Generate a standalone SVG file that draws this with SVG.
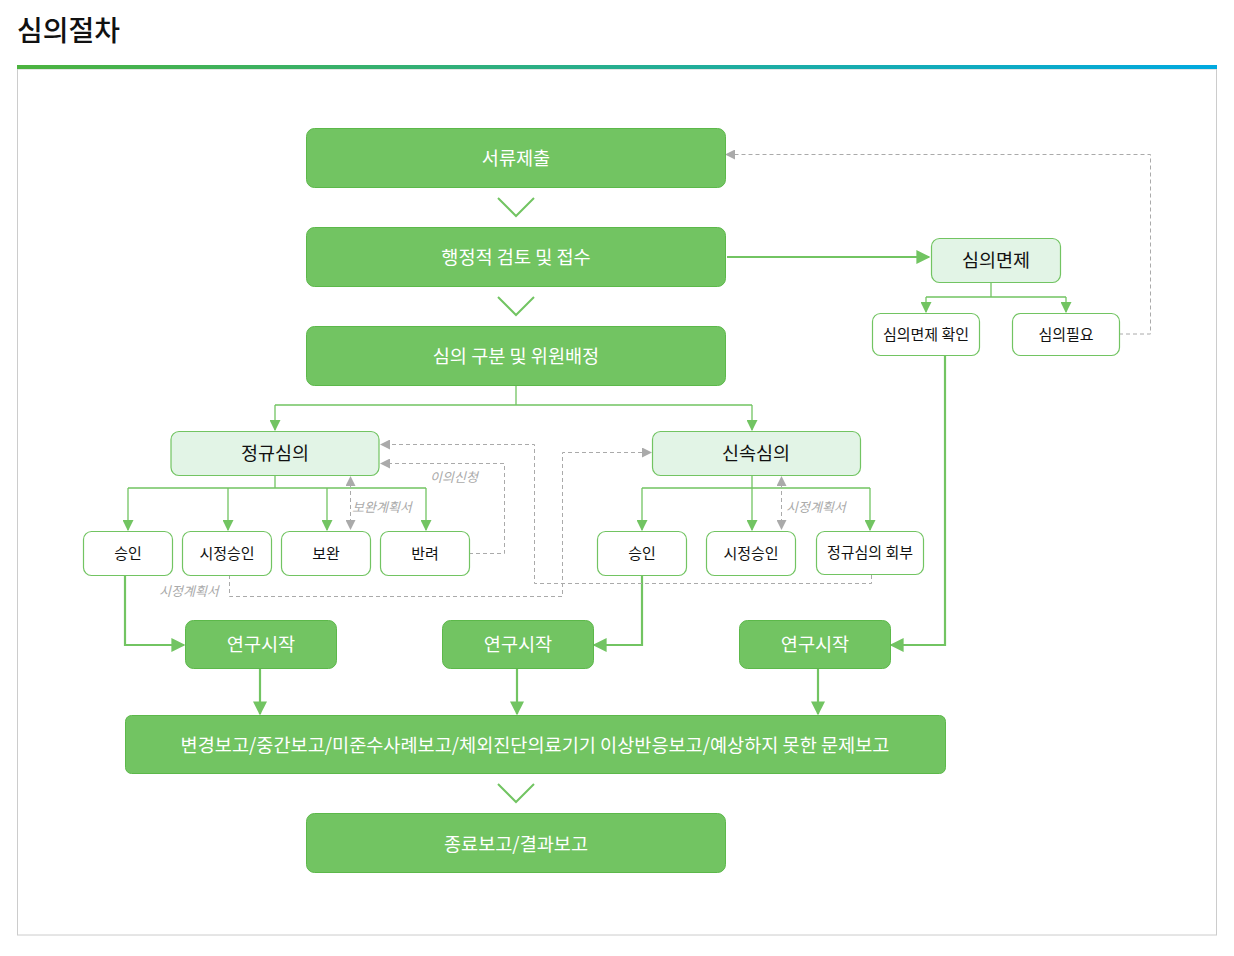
<svg xmlns="http://www.w3.org/2000/svg" width="1234" height="956" viewBox="0 0 1234 956">
  <defs>
    <linearGradient id="topbar" x1="0" y1="0" x2="1" y2="0">
      <stop offset="0" stop-color="#4cb33f"/>
      <stop offset="1" stop-color="#00a9e0"/>
    </linearGradient>
    <marker id="ag" viewBox="0 0 10 10" refX="9" refY="5" markerWidth="11" markerHeight="11" markerUnits="userSpaceOnUse" orient="auto">
      <path d="M0 0 L10 5 L0 10 Z" fill="#72c462"/>
    </marker>
    <marker id="agl" viewBox="0 0 10 10" refX="9" refY="5" markerWidth="14" markerHeight="14" markerUnits="userSpaceOnUse" orient="auto">
      <path d="M0 0 L10 5 L0 10 Z" fill="#72c462"/>
    </marker>
    <marker id="ay" viewBox="0 0 10 10" refX="9" refY="5" markerWidth="10" markerHeight="10" markerUnits="userSpaceOnUse" orient="auto-start-reverse">
      <path d="M0 0 L10 5 L0 10 Z" fill="#aaaaaa"/>
    </marker>
  </defs>
  <style>
    text { font-family: "Noto Sans CJK KR", "Noto Sans", sans-serif; }
    .title { font-size: 28px; font-weight: 500; fill: #111; }
    .main rect { fill: #72c462; stroke: #5cb84a; stroke-width: 1; }
    .main text { fill: #fff; font-size: 18.6px; text-anchor: middle; dominant-baseline: central; }
    .mid rect { fill: #e2f4e6; stroke: #72c462; stroke-width: 1.2; }
    .mid text { fill: #111; font-size: 18.5px; text-anchor: middle; dominant-baseline: central; }
    .leaf rect { fill: #fff; stroke: #72c462; stroke-width: 1.2; }
    .leaf text { fill: #111; font-size: 15px; text-anchor: middle; dominant-baseline: central; }
    .thin { fill: none; stroke: #72c462; stroke-width: 1.3; }
    .thick { fill: none; stroke: #72c462; stroke-width: 2.2; }
    .dash { fill: none; stroke: #aaaaaa; stroke-width: 1; stroke-dasharray: 4 3; }
    .chev { fill: none; stroke: #72c462; stroke-width: 2; }
    .note { fill: #aaaaaa; font-size: 13px; font-style: italic; dominant-baseline: central; }
  </style>

  <rect width="1234" height="956" fill="#fff"/>

  <!-- heading -->
  <text class="title" x="17" y="41">심의절차</text>
  <rect x="17.5" y="69" width="1199" height="866" fill="none" stroke="#cccccc" stroke-width="1"/>
  <rect x="17" y="65" width="1200" height="4" fill="url(#topbar)"/>

  <!-- connectors -->
  <g id="connectors">
    <path class="thin" d="M516 385 V405 M275 405 H752"/>
    <path class="thin" d="M275 405 V430" marker-end="url(#ag)"/>
    <path class="thin" d="M752 405 V430" marker-end="url(#ag)"/>

    <path class="thin" d="M275 475 V488 M128 488 H426"/>
    <path class="thin" d="M128 488 V530" marker-end="url(#ag)"/>
    <path class="thin" d="M228 488 V530" marker-end="url(#ag)"/>
    <path class="thin" d="M327 488 V530" marker-end="url(#ag)"/>
    <path class="thin" d="M426 488 V530" marker-end="url(#ag)"/>

    <path class="thin" d="M752 475 V488 M642 488 H870"/>
    <path class="thin" d="M642 488 V530" marker-end="url(#ag)"/>
    <path class="thin" d="M752 488 V530" marker-end="url(#ag)"/>
    <path class="thin" d="M870 488 V530" marker-end="url(#ag)"/>

    <path class="thin" d="M991 282 V297 M926 297 H1066"/>
    <path class="thin" d="M926 297 V312" marker-end="url(#ag)"/>
    <path class="thin" d="M1066 297 V312" marker-end="url(#ag)"/>

    <path class="thick" d="M727 257 H929" marker-end="url(#agl)"/>
    <path class="thick" d="M945 355 V645 H891" marker-end="url(#agl)"/>
    <path class="thick" d="M125 575 V645 H184" marker-end="url(#agl)"/>
    <path class="thick" d="M642 575 V645 H594" marker-end="url(#agl)"/>
    <path class="thick" d="M260 668 V714" marker-end="url(#agl)"/>
    <path class="thick" d="M517 668 V714" marker-end="url(#agl)"/>
    <path class="thick" d="M818 668 V714" marker-end="url(#agl)"/>

    <path class="dash" d="M1119 334 H1150.5 V154.5 H726" marker-end="url(#ay)"/>
    <path class="dash" d="M469 553.5 H504.5 V463.5 H381" marker-end="url(#ay)"/>
    <path class="dash" d="M871.5 575 V583.5 H534.5 V444.5 H381" marker-end="url(#ay)"/>
    <path class="dash" d="M229.5 575 V596.5 H562.5 V452.5 H651" marker-end="url(#ay)"/>
    <path class="dash" d="M350.5 477 V529" marker-start="url(#ay)" marker-end="url(#ay)"/>
    <path class="dash" d="M781.5 477 V529" marker-start="url(#ay)" marker-end="url(#ay)"/>

    <polyline class="chev" points="498,198 516,216 534,198"/>
    <polyline class="chev" points="498,297 516,315 534,297"/>
    <polyline class="chev" points="498,784 516,802 534,784"/>

    <text class="note" x="430" y="476">이의신청</text>
    <text class="note" x="352" y="506">보완계획서</text>
    <text class="note" x="786" y="506">시정계획서</text>
    <text class="note" x="159" y="590">시정계획서</text>
  </g>

  <!-- main flow -->
  <g id="n-submit" class="main"><rect x="306.5" y="128.5" width="419" height="59" rx="8"/><text x="516" y="156.5">서류제출</text></g>
  <g id="n-admin" class="main"><rect x="306.5" y="227.5" width="419" height="59" rx="8"/><text x="516" y="255.5">행정적 검토 및 접수</text></g>
  <g id="n-assign" class="main"><rect x="306.5" y="326.5" width="419" height="59" rx="8"/><text x="516" y="354.5">심의 구분 및 위원배정</text></g>

  <!-- review types -->
  <g id="n-regular" class="mid"><rect x="171" y="431.5" width="208" height="44" rx="8"/><text x="275" y="451.5">정규심의</text></g>
  <g id="n-fast" class="mid"><rect x="652.5" y="431.5" width="208" height="44" rx="8"/><text x="756" y="451.5">신속심의</text></g>
  <g id="n-exempt" class="mid"><rect x="931.5" y="238.5" width="129" height="44" rx="8"/><text x="996" y="258.5">심의면제</text></g>

  <!-- regular review outcomes -->
  <g id="n-r-approve" class="leaf"><rect x="83.5" y="531.5" width="89" height="44" rx="8"/><text x="128" y="552">승인</text></g>
  <g id="n-r-cond" class="leaf"><rect x="182.5" y="531.5" width="89" height="44" rx="8"/><text x="227" y="552">시정승인</text></g>
  <g id="n-r-supp" class="leaf"><rect x="281.5" y="531.5" width="89" height="44" rx="8"/><text x="326" y="552">보완</text></g>
  <g id="n-r-reject" class="leaf"><rect x="380.5" y="531.5" width="89" height="44" rx="8"/><text x="425" y="552">반려</text></g>

  <!-- fast review outcomes -->
  <g id="n-f-approve" class="leaf"><rect x="597.5" y="531.5" width="89" height="44" rx="8"/><text x="642" y="552">승인</text></g>
  <g id="n-f-cond" class="leaf"><rect x="706.5" y="531.5" width="89" height="44" rx="8"/><text x="751" y="552">시정승인</text></g>
  <g id="n-f-refer" class="leaf"><rect x="816.5" y="531.5" width="107" height="43" rx="8"/><text x="870" y="551">정규심의 회부</text></g>

  <!-- exemption outcomes -->
  <g id="n-e-confirm" class="leaf"><rect x="872.5" y="313.5" width="107" height="42" rx="8"/><text x="926" y="333">심의면제 확인</text></g>
  <g id="n-e-need" class="leaf"><rect x="1012.5" y="313.5" width="107" height="42" rx="8"/><text x="1066" y="333">심의필요</text></g>

  <!-- study start -->
  <g id="n-start-1" class="main"><rect x="185.5" y="620.5" width="151" height="48" rx="8"/><text x="261" y="642.5">연구시작</text></g>
  <g id="n-start-2" class="main"><rect x="442.5" y="620.5" width="151" height="48" rx="8"/><text x="518" y="642.5">연구시작</text></g>
  <g id="n-start-3" class="main"><rect x="739.5" y="620.5" width="151" height="48" rx="8"/><text x="815" y="642.5">연구시작</text></g>

  <!-- reporting -->
  <g id="n-reports" class="main"><rect x="125.5" y="715.5" width="820" height="58" rx="6"/><text x="535" y="743">변경보고/중간보고/미준수사례보고/체외진단의료기기 이상반응보고/예상하지 못한 문제보고</text></g>
  <g id="n-final" class="main"><rect x="306.5" y="813.5" width="419" height="59" rx="8"/><text x="516" y="842">종료보고/결과보고</text></g>
</svg>
